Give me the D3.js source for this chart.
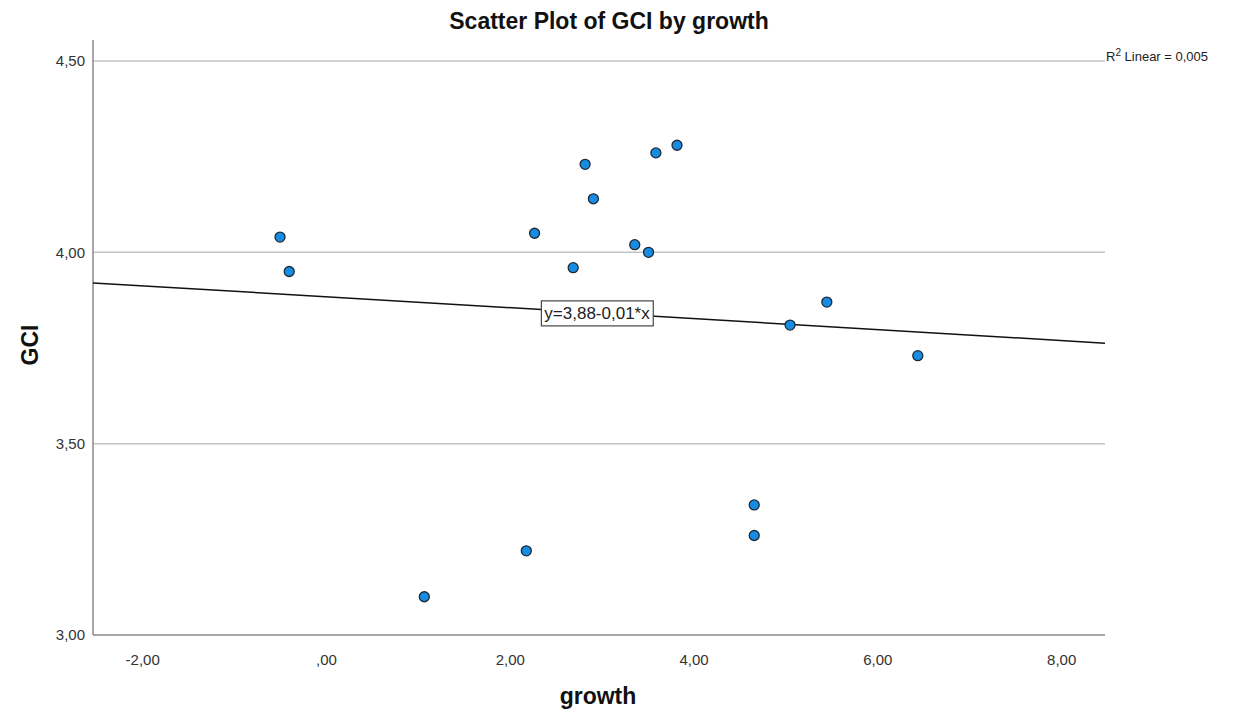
<!DOCTYPE html>
<html><head><meta charset="utf-8">
<script src="https://cdn.jsdelivr.net/npm/d3@7"></script>
<style>
body{margin:0;background:#fff;}
svg text{font-family:"Liberation Sans",Arial,sans-serif;}
</style></head>
<body><svg id="c" width="1249" height="713"></svg>
<script>
const growth = [-0.50,-0.40,1.07,2.18,2.27,2.69,2.82,2.91,3.36,3.51,3.59,3.82,4.66,4.66,5.05,5.45,6.44];
const gci    = [4.04,3.95,3.10,3.22,4.05,3.96,4.23,4.14,4.02,4.00,4.26,4.28,3.34,3.26,3.81,3.87,3.73];
const xTicks = [-2,0,2,4,6,8];
const yTicks = [3.0,3.5,4.0,4.5];
const fitIntercept = 3.884, fitSlope = -0.0143;
const fitLabel = "y=3,88-0,01*x";
const r2Label = "0,005";

const svg = d3.select("#c");
const L=93, R=1105, T=40, B=635;
const x = d3.scaleLinear().domain([-2.535,8.477]).range([L,R]);
const y = d3.scaleLinear().domain([3.0,4.555]).range([B,T]);
const fmt = v => { let s = d3.format(".2f")(Math.abs(v)).replace(".",","); if (s.startsWith("0,")) s = s.slice(1); return (v<0?"-":"")+s; };

// gridlines
svg.append("g").selectAll("line").data(yTicks.filter(d=>d>3)).join("line")
  .attr("x1",L).attr("x2",R).attr("y1",d=>y(d)).attr("y2",d=>y(d))
  .attr("stroke","#c4c4c4").attr("stroke-width",1.5);

// axes
const gx = svg.append("g").attr("transform",`translate(0,${B})`)
  .call(d3.axisBottom(x).tickValues(xTicks).tickSize(0).tickPadding(19).tickFormat(fmt));
gx.select(".domain").attr("stroke","#8a8a8a").attr("stroke-width",1.5).attr("d",`M${L},0H${R}`);
gx.selectAll("text").attr("font-size",15).attr("fill","#333");

const gy = svg.append("g").attr("transform",`translate(${L},0)`)
  .call(d3.axisLeft(y).tickValues(yTicks).tickSize(0).tickPadding(8).tickFormat(fmt));
gy.select(".domain").attr("stroke","#8a8a8a").attr("stroke-width",1.5).attr("d",`M0,${T}V${B}`);
gy.selectAll("text").attr("font-size",15).attr("fill","#333");

// fit line
const xd = x.domain();
svg.append("line")
  .attr("x1",x(xd[0])).attr("y1",y(fitIntercept+fitSlope*xd[0]))
  .attr("x2",x(xd[1])).attr("y2",y(fitIntercept+fitSlope*xd[1]))
  .attr("stroke","#111").attr("stroke-width",1.5);

// points
svg.append("g").selectAll("circle").data(growth.map((g,i)=>[g,gci[i]])).join("circle")
  .attr("cx",d=>x(d[0])).attr("cy",d=>y(d[1])).attr("r",5)
  .attr("fill","#168de2").attr("stroke","#1d2a38").attr("stroke-width",1.3);

// fit label box
const lx = x(2.95), lxy = y(fitIntercept+fitSlope*2.95);
const lab = svg.append("g");
const t = lab.append("text").attr("x",lx).attr("y",lxy+6).attr("text-anchor","middle")
  .attr("font-size",17).attr("fill","#222").text(fitLabel);
const bb = t.node().getBBox();
lab.insert("rect","text").attr("x",bb.x-3).attr("y",bb.y-3).attr("width",bb.width+6).attr("height",bb.height+6)
  .attr("fill","#fff").attr("stroke","#444").attr("stroke-width",1.2);

// R2 label
const r2 = svg.append("text").attr("x",R+1).attr("y",y(4.5)).attr("font-size",13).attr("fill","#222");
r2.append("tspan").text("R");
r2.append("tspan").attr("dy",-5).attr("font-size",10).text("2");
r2.append("tspan").attr("dy",5).text(" Linear = "+r2Label);

// titles
svg.append("text").attr("x",609).attr("y",29).attr("text-anchor","middle")
  .attr("font-size",23).attr("font-weight","bold").attr("fill","#111").text("Scatter Plot of GCI by growth");
svg.append("text").attr("x",598).attr("y",704).attr("text-anchor","middle")
  .attr("font-size",23).attr("font-weight","bold").attr("fill","#111").text("growth");
svg.append("text").attr("transform","translate(38,345) rotate(-90)").attr("text-anchor","middle")
  .attr("font-size",23).attr("font-weight","bold").attr("fill","#111").text("GCI");
</script></body></html>
